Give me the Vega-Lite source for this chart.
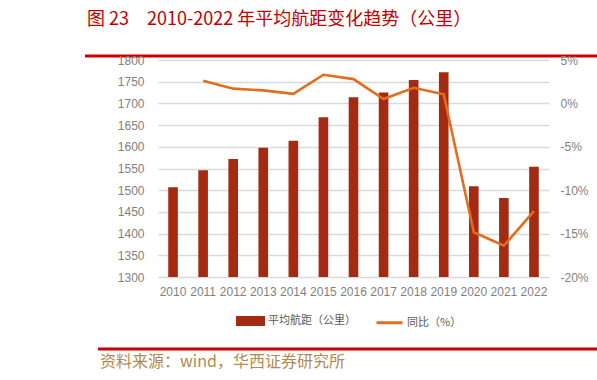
{
  "$schema": "https://vega.github.io/schema/vega-lite/v6.json",
  "padding": {"left": 83, "top": 10, "right": 0, "bottom": 0},
  "spacing": -4,
  "background": "white",
  "config": {"view": {"stroke": null}, "font": "Liberation Sans"},
  "datasets": {
    "flights": [
      {"year": "2010", "dist": 1507, "yoy": null},
      {"year": "2011", "dist": 1546, "yoy": 2.6},
      {"year": "2012", "dist": 1572, "yoy": 1.7},
      {"year": "2013", "dist": 1598, "yoy": 1.5},
      {"year": "2014", "dist": 1614, "yoy": 1.1},
      {"year": "2015", "dist": 1668, "yoy": 3.3},
      {"year": "2016", "dist": 1714, "yoy": 2.8},
      {"year": "2017", "dist": 1725, "yoy": 0.5},
      {"year": "2018", "dist": 1754, "yoy": 1.8},
      {"year": "2019", "dist": 1772, "yoy": 1.05},
      {"year": "2020", "dist": 1509, "yoy": -14.85},
      {"year": "2021", "dist": 1482, "yoy": -16.4},
      {"year": "2022", "dist": 1554, "yoy": -12.4}
    ],
    "edge": [{"v": 1}],
    "edge0": [{"v": 0}]
  },
  "vconcat": [
    {
      "width": 514,
      "height": 1,
      "title": {
        "text": "图 23　2010-2022 年平均航距变化趋势（公里）",
        "anchor": "start",
        "frame": "group",
        "dx": 2,
        "offset": 26,
        "font": "Noto Sans CJK SC",
        "fontSize": 18,
        "fontWeight": "normal",
        "color": "#c00000"
      },
      "data": {"name": "edge"},
      "mark": {"type": "rule", "color": "#cc0000", "strokeWidth": 3},
      "encoding": {
        "y": {"field": "v", "type": "quantitative", "scale": {"domain": [0, 1]}, "axis": null}
      }
    },
    {
      "spacing": 0,
      "hconcat": [
        {
          "width": 1,
          "height": 217,
          "data": {"name": "edge"},
          "mark": {"type": "text"},
          "encoding": {"text": {"value": ""}}
        },
        {
          "width": 391,
          "height": 217,
          "data": {"name": "flights"},
          "encoding": {
            "x": {
              "field": "year",
              "type": "ordinal",
              "scale": {"paddingInner": 0.68, "paddingOuter": 0.34},
              "axis": {
                "title": null,
                "domain": false,
                "ticks": false,
                "labelAngle": 0,
                "labelPadding": 9,
                "labelFontSize": 12,
                "labelColor": "#7f7f7f"
              }
            }
          },
          "layer": [
            {
              "mark": {"type": "bar", "color": "#a52a12", "clip": true},
              "encoding": {
                "y": {
                  "field": "dist",
                  "type": "quantitative",
                  "scale": {"domain": [1300, 1800], "zero": false, "nice": false},
                  "axis": {
                    "title": null,
                    "values": [1300, 1350, 1400, 1450, 1500, 1550, 1600, 1650, 1700, 1750, 1800],
                    "format": "d",
                    "domain": false,
                    "ticks": false,
                    "labelPadding": 14,
                    "minExtent": 72,
                    "labelFontSize": 12,
                    "labelColor": "#7f7f7f",
                    "gridColor": "#d9d9d9",
                    "gridWidth": 1.3
                  }
                },
                "color": {
                  "datum": "平均航距（公里）",
                  "type": "nominal",
                  "scale": {"domain": ["平均航距（公里）", "同比（%）"], "range": ["#a52a12", "#e46c1e"]},
                  "legend": {
                    "title": null,
                    "orient": "none",
                    "direction": "horizontal",
                    "legendX": 151,
                    "legendY": 250,
                    "symbolSize": 676,
                    "labelOffset": 3,
                    "columnPadding": 14,
                    "labelFont": "Noto Sans CJK SC",
                    "labelFontSize": 11,
                    "labelColor": "#595959",
                    "encode": {
                      "symbols": {
                        "update": {
                          "shape": {"signal": "datum.value === '同比（%）' ? 'M-1,0H1' : 'M-1,-0.27H1V0.27H-1Z'"},
                          "fill": {"signal": "datum.value === '同比（%）' ? 'transparent' : '#a52a12'"},
                          "stroke": {"signal": "datum.value === '同比（%）' ? '#e46c1e' : 'transparent'"},
                          "strokeWidth": {"value": 3},
                          "opacity": {"value": 1}
                        }
                      }
                    }
                  }
                }
              }
            },
            {
              "mark": {"type": "line", "color": "#e46c1e", "strokeWidth": 2.6},
              "encoding": {
                "y": {
                  "field": "yoy",
                  "type": "quantitative",
                  "scale": {"domain": [-20, 5], "nice": false},
                  "axis": {
                    "title": null,
                    "orient": "right",
                    "values": [-20, -15, -10, -5, 0, 5],
                    "labelExpr": "datum.value + '%'",
                    "grid": false,
                    "domain": false,
                    "ticks": false,
                    "labelPadding": 11,
                    "labelFontSize": 12,
                    "labelColor": "#7f7f7f"
                  }
                },
                "color": {"datum": "同比（%）", "type": "nominal"}
              }
            }
          ],
          "resolve": {"scale": {"y": "independent"}}
        }
      ]
    },
    {
      "spacing": 0,
      "hconcat": [
        {
          "width": 11,
          "height": 52,
          "data": {"name": "edge"},
          "mark": {"type": "text"},
          "encoding": {"text": {"value": ""}}
        },
        {
          "width": 499,
          "height": 52,
          "title": {
            "text": "资料来源：wind，华西证券研究所",
            "orient": "bottom",
            "anchor": "start",
            "frame": "group",
            "dx": 2,
            "offset": 3,
            "font": "Noto Sans CJK SC",
            "fontSize": 16,
            "fontWeight": "normal",
            "color": "#b08a50"
          },
          "data": {"name": "edge0"},
          "mark": {"type": "rule", "color": "#cc0000", "strokeWidth": 3},
          "encoding": {
            "y": {"field": "v", "type": "quantitative", "scale": {"domain": [0, 1]}, "axis": null}
          }
        }
      ]
    }
  ]
}
